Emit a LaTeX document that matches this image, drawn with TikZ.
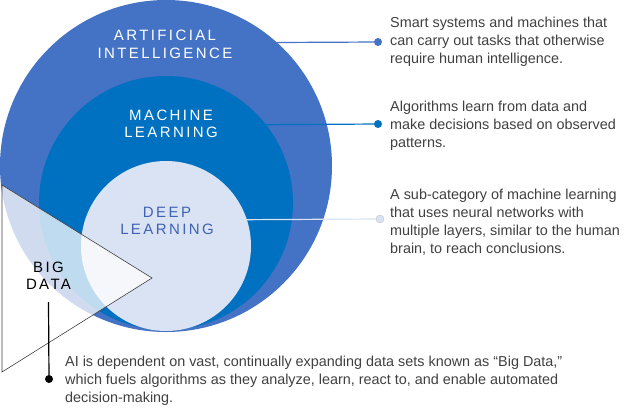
\documentclass[tikz,border=0pt]{standalone}
\usepackage{fontspec}
\setmainfont{Liberation Sans}
\newfontfamily\spacedfont[LetterSpace=16]{Liberation Sans}
\usepackage{tikz}
\usetikzlibrary{positioning}
\usepackage{xcolor}
\definecolor{aiblue}{HTML}{4472C4}
\definecolor{mlblue}{HTML}{0070C0}
\definecolor{dlblue}{HTML}{DAE3F3}
\definecolor{dltext}{HTML}{4062B4}
\definecolor{bodytext}{HTML}{404040}

\begin{document}
\begin{tikzpicture}[
  x=1pt, y=-1pt,
  every node/.style={inner sep=0pt},
  ring/.style={circle, minimum size=#1},
  lbl/.style={font=\spacedfont\fontsize{15}{17.5}\selectfont, align=center},
  desc/.style={font=\fontsize{14.4}{18}\selectfont, text=bodytext, align=left, anchor=west},
  dot/.style={circle, minimum size=8pt},
  conn/.style={line width=1.2pt}
]
\useasboundingbox (0,0) rectangle (640,416);

\node[ring=332pt, fill=aiblue] (ai) at (166,166) {};
\node[ring=254pt, fill=mlblue] (ml) at (166,203) {};
\node[ring=170pt, fill=dlblue] (dl) at (166,246) {};

\node[lbl, text=white] (ailabel) at (165,44.5) {ARTIFICIAL\\INTELLIGENCE};
\node[lbl, text=white] (mllabel) at (171,124) {MACHINE\\LEARNING};
\node[lbl, text=dltext] (dllabel) at (167,221) {DEEP\\LEARNING};

\coordinate (tritop) at (2,185);
\coordinate (triapex) at (152,278);
\coordinate (tribot) at (2,372);
\fill[white, fill opacity=0.75] (tritop) -- (triapex) -- (tribot) -- cycle;
\draw[bodytext, line width=0.6pt] (tritop) -- (triapex) -- (tribot) -- cycle;

\node[lbl, text=black] (bdlabel) at (48.5,276) {BIG\\DATA};

\node[dot, fill=aiblue] (aidot) at (378,42) {};
\node[dot, fill=mlblue] (mldot) at (378,124) {};
\node[dot, fill=dlblue, draw=black!25, line width=0.4pt] (dldot) at (380,219) {};
\node[dot, fill=black] (bddot) at (49,379) {};

\draw[conn, aiblue] (ai.48.33) -- (aidot);
\draw[conn, mlblue] (ml.38.47) -- (mldot);
\draw[conn, dlblue] (dl.18.52) -- (dldot);
\draw[line width=1.2pt] (bdlabel.south) ++(0,12) coordinate (bdtop) -- (bddot);

\node[desc] (aitext) at (390,42) {Smart systems and machines that\\can carry out tasks that otherwise\\require human intelligence.};
\node[desc] (mltext) at (390,126) {Algorithms learn from data and\\make decisions based on observed\\patterns.};
\node[desc] (dltext) at (390,222) {A sub-category of machine learning\\that uses neural networks with\\multiple layers, similar to the human\\brain, to reach conclusions.};
\node[desc] (bdtext) at (65,381) {AI is dependent on vast, continually expanding data sets known as “Big Data,”\\which fuels algorithms as they analyze, learn, react to, and enable automated\\decision-making.};
\end{tikzpicture}
\end{document}
